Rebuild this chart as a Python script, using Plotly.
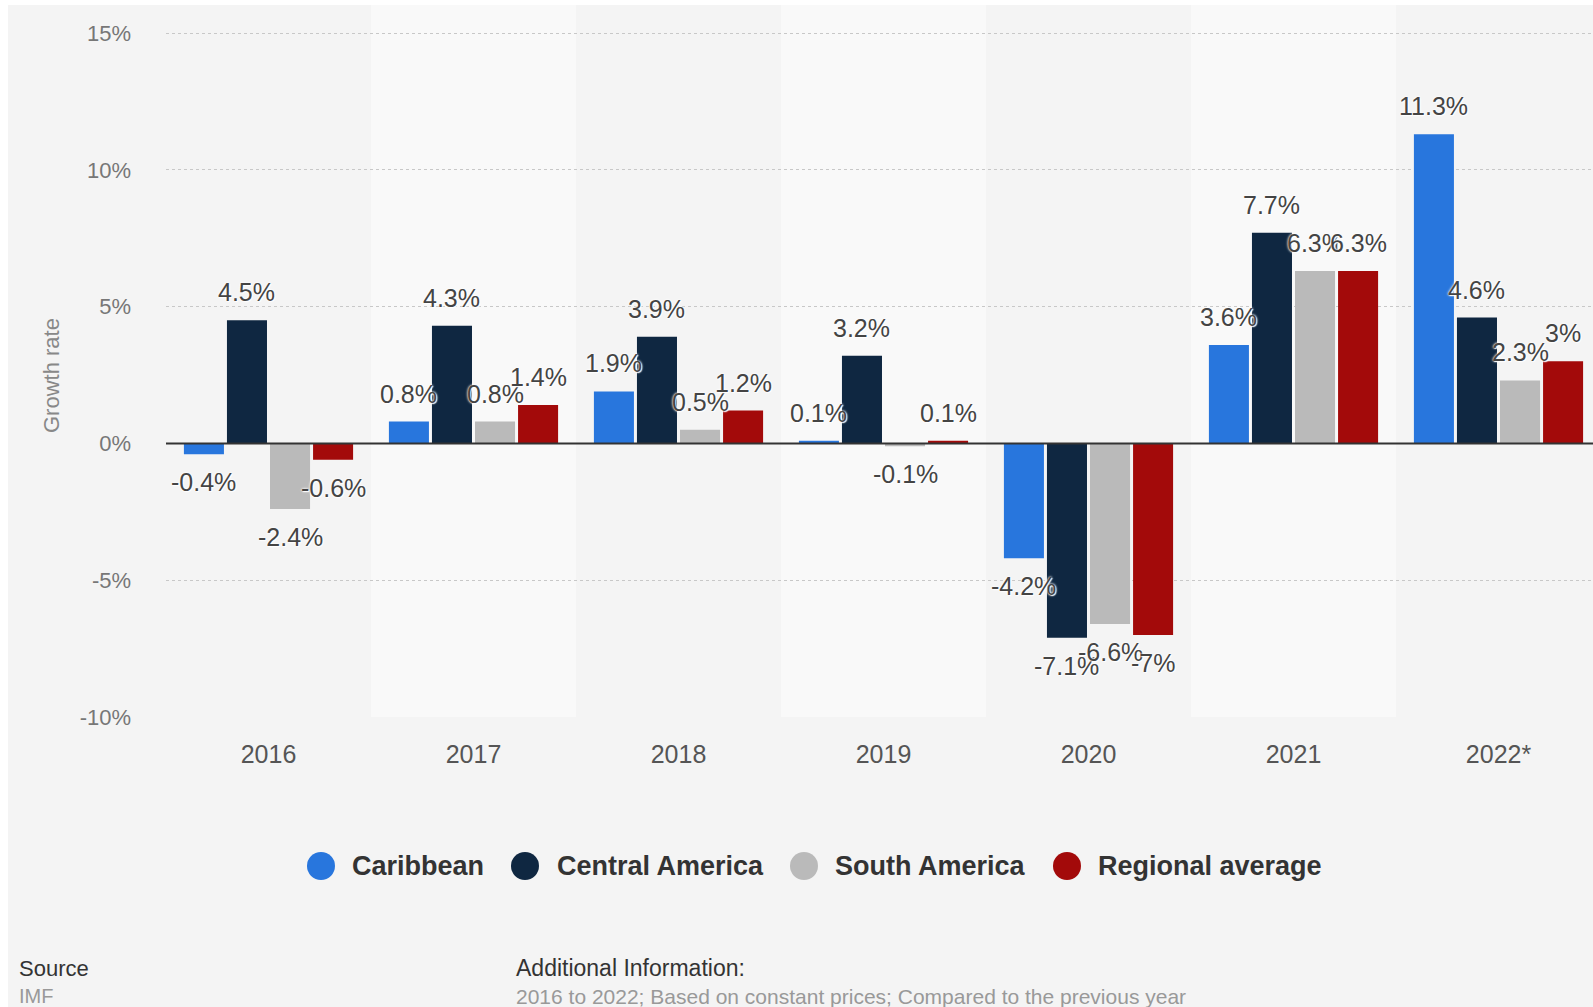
import plotly.graph_objects as go

years = ["2016", "2017", "2018", "2019", "2020", "2021", "2022*"]
series_names = ["Caribbean", "Central America", "South America", "Regional average"]
caribbean = [-0.4, 0.8, 1.9, 0.1, -4.2, 3.6, 11.3]
central_america = [4.5, 4.3, 3.9, 3.2, -7.1, 7.7, 4.6]
south_america = [-2.4, 0.8, 0.5, -0.1, -6.6, 6.3, 2.3]
regional_average = [-0.6, 1.4, 1.2, 0.1, -7.0, 6.3, 3.0]
y_ticks = [-10, -5, 0, 5, 10, 15]
source_label = "Source"
source_text = "IMF"
info_label = "Additional Information:"
info_text = "2016 to 2022; Based on constant prices; Compared to the previous year"

series_values = [caribbean, central_america, south_america, regional_average]
colors = ["#2876dd", "#0f2741", "#bababa", "#a30a0a"]

W, H = 1593, 1007
L, T, B = 166, 5, 717
PW, PH = W - L, B - T

def pxx(px):
    return (px - L) / PW

def pxy(py):
    return (B - py) / PH

BARGAP = 0.16
GROUPGAP = 0.07
n = len(series_values)
slot = (1 - BARGAP) / n

FONT = "Liberation Sans, Arial, Helvetica, sans-serif"
xs = list(range(len(years)))

fig = go.Figure()
for k, (name, vals, col) in enumerate(zip(series_names, series_values, colors)):
    fig.add_trace(go.Bar(
        x=xs, y=vals, name=name, marker=dict(color=col, line=dict(width=0)),
        showlegend=False, hoverinfo="x+y",
    ))

annotations = []
for k, vals in enumerate(series_values):
    off = (k - (n - 1) / 2) * slot
    for i, v in enumerate(vals):
        annotations.append(dict(
            x=i + off, y=v, xref="x", yref="y", text=f"{v:g}%", showarrow=False,
            yanchor="middle", xanchor="center", yshift=28 if v >= 0 else -28,
            font=dict(family=FONT, size=25, color="#444444",
                      shadow="0px 0px 2px #ffffff, 0px 0px 3px #ffffff, 1px 1px 1px #ffffff"),
        ))

# y-axis title
annotations.append(dict(
    x=pxx(51), y=2.5, xref="paper", yref="y", text="Growth rate", textangle=-90,
    showarrow=False, xanchor="center", yanchor="middle",
    font=dict(family=FONT, size=22, color="#888888"),
))

# legend (manual, circles)
leg_circle_x = [321, 525, 804, 1067]
leg_text_x = [350, 555, 833, 1096]
leg_y = 866
shapes = []
for k, name in enumerate(series_names):
    shapes.append(dict(
        type="circle", xref="paper", yref="paper", xsizemode="pixel", ysizemode="pixel",
        xanchor=pxx(leg_circle_x[k]), yanchor=pxy(leg_y), x0=-14, x1=14, y0=-14, y1=14,
        fillcolor=colors[k], line=dict(width=0),
    ))
    annotations.append(dict(
        x=pxx(leg_text_x[k]), y=pxy(leg_y), xref="paper", yref="paper", text=name,
        showarrow=False, xanchor="left", yanchor="middle",
        font=dict(family=FONT, size=27, color="#333333", weight=700),
    ))

# footer
for txt, px, py, size, col in [
    (source_label, 17, 968, 22, "#333333"),
    (source_text, 17, 996, 20, "#999999"),
    (info_label, 514, 968, 23, "#333333"),
    (info_text, 514, 996, 21, "#999999"),
]:
    annotations.append(dict(
        x=pxx(px), y=pxy(py), xref="paper", yref="paper", text=txt, showarrow=False,
        xanchor="left", yanchor="middle", font=dict(family=FONT, size=size, color=col),
    ))

# alternating column bands
for i in xs:
    if i % 2 == 1:
        shapes.append(dict(
            type="rect", xref="x", yref="paper", x0=i - 0.5, x1=i + 0.5, y0=0, y1=1,
            fillcolor="#f9f9f9", line=dict(width=0), layer="below",
        ))

# white page edges
shapes.append(dict(type="rect", xref="paper", yref="paper", x0=pxx(0), x1=pxx(8),
                   y0=pxy(H), y1=pxy(0), fillcolor="#ffffff", line=dict(width=0), layer="below"))
shapes.append(dict(type="rect", xref="paper", yref="paper", x0=pxx(0), x1=pxx(W),
                   y0=pxy(5), y1=pxy(0), fillcolor="#ffffff", line=dict(width=0), layer="below"))

# zero line on top of bars
shapes.append(dict(type="line", xref="paper", yref="y", x0=0, x1=1, y0=0, y1=0,
                   line=dict(color="#333333", width=2), layer="above"))

px_per_unit = (B - 33) / 25.0
y_top = 15 + (33 - T) / px_per_unit
x_right = -0.5 + PW / 205.0

fig.update_layout(
    width=W, height=H,
    margin=dict(l=L, r=0, t=T, b=H - B, pad=0),
    paper_bgcolor="#f4f4f4", plot_bgcolor="rgba(0,0,0,0)",
    barmode="group", bargap=BARGAP, bargroupgap=GROUPGAP,
    showlegend=False,
    font=dict(family=FONT),
    xaxis=dict(
        range=[-0.5, x_right], tickmode="array", tickvals=xs, ticktext=years,
        showgrid=False, zeroline=False, showline=False, ticks="",
        tickfont=dict(family=FONT, size=25, color="#555555"), ticklabelstandoff=20,
        fixedrange=True,
    ),
    yaxis=dict(
        range=[-10, y_top], tickmode="array", tickvals=y_ticks,
        ticktext=[f"{t}%" for t in y_ticks],
        showgrid=True, gridcolor="#c8c8c8", griddash="dot", gridwidth=1,
        zeroline=False, showline=False, ticks="",
        tickfont=dict(family=FONT, size=22, color="#777777"), ticklabelstandoff=34,
        fixedrange=True,
    ),
    annotations=annotations,
    shapes=shapes,
)

fig.write_html("out.html", config={"displayModeBar": False})
